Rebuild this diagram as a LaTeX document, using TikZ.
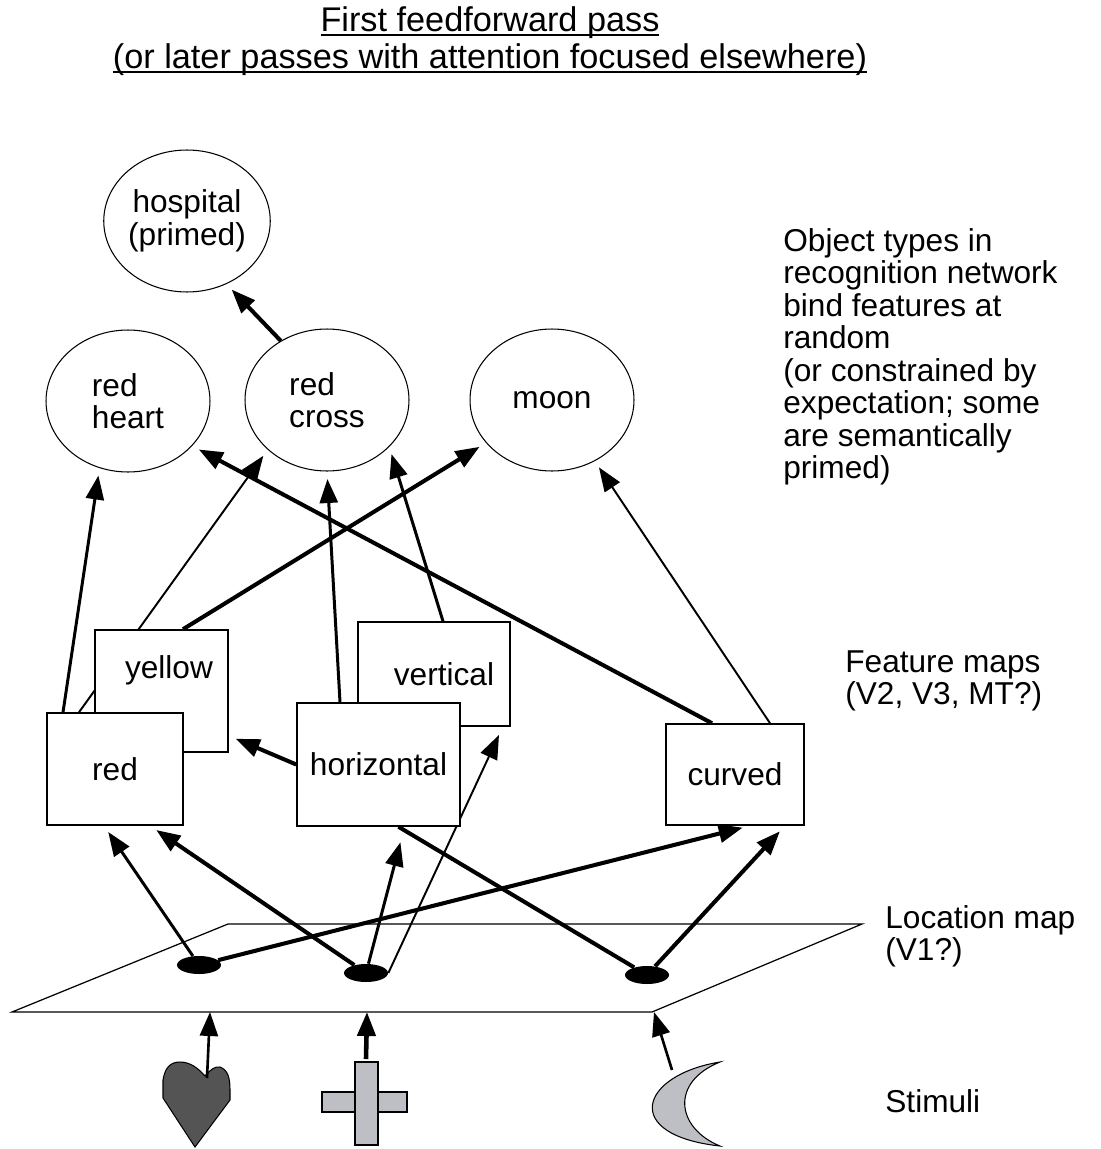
\documentclass[tikz,border=0pt]{standalone}
\usepackage{fontspec}
\setmainfont{Liberation Sans}
\usetikzlibrary{arrows.meta,shapes.geometric,backgrounds}
\definecolor{stimgray}{HTML}{BEBFC4}
\newcommand{\titleline}[1]{\setbox0\hbox{#1}\rlap{\rule[-2.4pt]{\wd0}{1.1pt}}\box0}

\begin{document}
\begin{tikzpicture}[x=0.02cm,y=-0.02cm,
  >={Triangle[length=0.48cm,width=0.36cm]},
  txt/.style={font=\fontsize{18}{18.5}\selectfont,inner sep=0pt},
  obj/.style={txt,ellipse,draw,fill=white,line width=0.6pt,minimum width=3.28cm,minimum height=2.84cm,align=left},
  fmap/.style={txt,rectangle,draw,fill=white,line width=0.9pt},
  spot/.style={ellipse,fill=black,minimum width=0.88cm,minimum height=0.36cm,inner sep=0pt},
  thk/.style={line width=2.3pt,shorten >=0.15cm},
  med/.style={line width=1.7pt,shorten >=0.15cm},
  thn/.style={line width=1.1pt,shorten >=0.15cm}]
\useasboundingbox (0,0) rectangle (1100,1149);

% title
\node[txt,align=center,font=\fontsize{19.5}{21}\selectfont] (title) at (490,41) {\titleline{First feedforward pass}\\\titleline{(or later passes with attention focused elsewhere)}};

% object types
\node[obj,align=center] (hosp) at (187,221) {hospital\\(primed)};
\node[obj] (rheart) at (128,401) {red\\heart};
\node[obj] (rcross) at (327,400) {red\\cross};
\node[obj] (moon) at (552,400) {moon};

% feature maps
\node[fmap,minimum width=2.66cm,minimum height=2.44cm,text depth=0.95cm] (yellow) at (161.5,691) {\hspace*{0.3cm}yellow};
\node[fmap,minimum width=2.72cm,minimum height=2.24cm] (red) at (115,769) {red};
\node[fmap,minimum width=3.04cm,minimum height=2.08cm] (vertical) at (434,674) {\hspace*{0.4cm}vertical};
\node[fmap,minimum width=3.26cm,minimum height=2.46cm] (horizontal) at (378.5,764.5) {horizontal};
\node[fmap,minimum width=2.76cm,minimum height=2.02cm] (curved) at (735,774.5) {curved};

% location map
\coordinate (mapNW) at (228,924);
\coordinate (mapNE) at (862,924);
\coordinate (mapSE) at (652,1012);
\coordinate (mapSW) at (12,1012);
\draw[line width=0.7pt] (mapNW) -- (mapNE) -- (mapSE) -- (mapSW) -- cycle;
\node[spot] (spotA) at (199,965) {};
\node[spot] (spotB) at (366,973) {};
\node[spot] (spotC) at (647,975) {};

% side labels
\node[txt,align=left,anchor=north west] (objlab) at (783,228) {Object types in\\recognition network\\bind features at\\random\\(or constrained by\\expectation; some\\are semantically\\primed)};
\node[txt,align=left,anchor=north west] (fmaplab) at (845,650) {Feature maps\\(V2, V3, MT?)};
\node[txt,align=left,anchor=north west] (maplab) at (885,905) {Location map\\(V1?)};
\node[txt,anchor=north west] (stimlab) at (885,1089) {Stimuli};

% stimuli
\draw[fill=black!67,line width=0.6pt] (195,1147) -- (163,1098) -- (163,1080) .. controls (165,1068) and (170,1062) .. (180,1062) .. controls (190,1062) and (198,1068) .. (205,1076) .. controls (210,1070) and (215,1066) .. (220,1067) .. controls (228,1070) and (230,1078) .. (230,1090) -- (230,1100) -- cycle;
\draw[fill=stimgray,line width=0.6pt] (322,1092) rectangle (407,1112);
\draw[fill=stimgray,line width=0.6pt] (355,1062) rectangle (378,1145);
\draw[fill=stimgray,line width=0.6pt] (720,1062) .. controls (640,1075) and (620,1135) .. (720,1146) .. controls (676,1128) and (670,1082) .. (720,1062) -- cycle;
\coordinate (heartTop) at (207,1078);
\coordinate (crossTop) at (366,1059);
\coordinate (moonTop) at (672,1070);
\coordinate (mapH) at (210,1012);
\coordinate (mapC) at (367,1012);
\coordinate (mapM) at (654,1012);
\draw[->,line width=1.5pt] (heartTop) -- (mapH);
\draw[->,line width=2.6pt] (crossTop) -- (mapC);
\draw[->,line width=1.5pt] (moonTop) -- (mapM);

\begin{pgfonlayer}{background}
% location map to feature maps
\draw[->,med] (spotA) -- ([xshift=-0.22cm]red.south);
\draw[->,thk] (spotB) -- ([xshift=0.7cm]red.south);
\draw[->,med,shorten >=0.32cm] (spotB) -- ([xshift=0.52cm]horizontal.south);
\draw[->,thn,shorten >=0.18cm] (spotB.east) -- ([xshift=-0.16cm]vertical.south east);
\draw[->,thk] (spotA) -- ([xshift=0.3cm]curved.south);
\draw[->,thk] (spotC) -- ([xshift=1cm]curved.south);
\draw[thk,shorten >=0pt] (spotC) -- ([xshift=0.4cm]horizontal.south);
% feature maps to object types
\draw[->,med] ([xshift=-1.04cm]red.north) -- (rheart.247);
\draw[->,thn] ([xshift=-0.72cm]red.north) -- (rcross.220);
\draw[->,med] ([xshift=-0.77cm]horizontal.north) -- (rcross.south);
\draw[->,med] ([xshift=0.18cm]vertical.north) -- (rcross.-37);
\draw[->,thk] ([xshift=0.43cm]yellow.north) -- (moon.213);
\draw[->,thk] ([xshift=-0.46cm]curved.north) -- (rheart.-35);
\draw[->,thn] ([xshift=0.7cm]curved.north) -- (moon.-55);
\draw[->,thk] (horizontal.west) -- ([yshift=0.34cm]yellow.south east);
\draw[->,thk] (rcross.128) -- (hosp.-58);
\end{pgfonlayer}
\end{tikzpicture}
\end{document}
